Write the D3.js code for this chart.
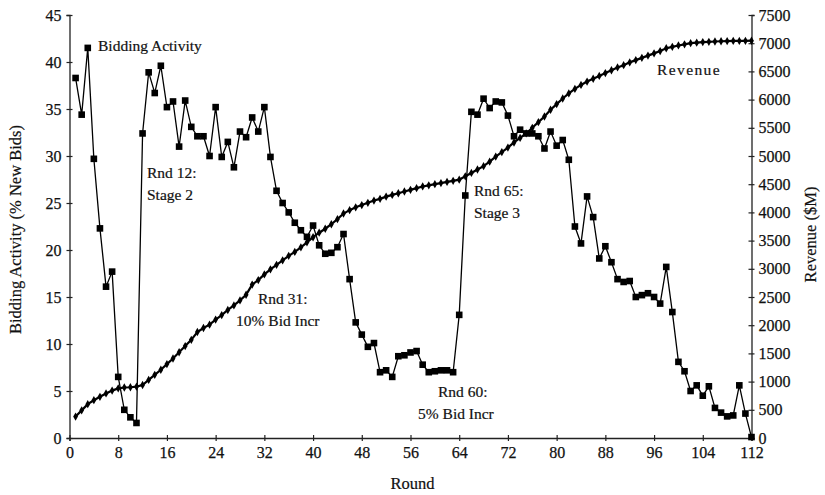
<!DOCTYPE html>
<html>
<head>
<meta charset="utf-8">
<script src="https://cdn.jsdelivr.net/npm/d3@7"></script>
<style>
  html, body { margin: 0; padding: 0; background: #fff; }
  svg text { font-family: "Liberation Serif", "DejaVu Serif", serif; fill: #111; }
</style>
</head>
<body>
<svg id="chart" width="825" height="495"></svg>
<script>
// Rounds 1..112
const rounds = d3.range(1, 113);

// Bidding Activity (% New Bids), one value per round
const bidding = [
  38.3, 34.4, 41.5, 29.7, 22.3, 16.1, 17.7, 6.5, 3.0, 2.2, 1.6,
  32.4, 38.9, 36.7, 39.6, 35.2, 35.8, 31.0, 35.9, 33.1, 32.1,
  32.1, 30.0, 35.2, 29.9, 31.5, 28.8, 32.6, 32.0, 34.1, 32.6,
  35.2, 29.9, 26.3, 25.0, 24.0, 22.9, 22.1, 21.4, 22.6, 20.5,
  19.6, 19.7, 20.3, 21.7, 16.9, 12.3, 11.0, 9.7, 10.1, 7.0,
  7.2, 6.5, 8.7, 8.8, 9.1, 9.25, 7.8, 7.0, 7.1, 7.2,
  7.2, 7.0, 13.1, 25.8, 34.7, 34.4, 36.1, 35.1, 35.8, 35.7,
  34.3, 32.1, 32.8, 32.4, 32.4, 32.1, 30.8, 32.6, 31.1, 31.7,
  29.6, 22.5, 20.7, 25.7, 23.5, 19.1, 20.4, 18.7, 16.9, 16.6,
  16.7, 15.0, 15.2, 15.4, 15.0, 14.3, 18.2, 13.4, 8.1, 7.1,
  5.0, 5.6, 4.5, 5.5, 3.2, 2.7, 2.3, 2.4, 5.6, 2.6,
  0.1
];

// Revenue ($M), one value per round
const revenue = [
  380, 490, 600, 670, 730, 790, 840, 880, 895, 900, 910,
  940, 1030, 1120, 1210, 1310, 1410, 1520, 1630, 1740, 1880,
  1950, 2010, 2100, 2180, 2270, 2350, 2440, 2540, 2720, 2800,
  2900, 2990, 3070, 3150, 3230, 3300, 3380, 3470, 3560, 3640,
  3710, 3790, 3880, 3980, 4040, 4090, 4130, 4170, 4210, 4240,
  4280, 4310, 4340, 4370, 4400, 4430, 4460, 4480, 4500, 4520,
  4540, 4560, 4580, 4640, 4700, 4760, 4820, 4900, 4990, 5070,
  5150, 5240, 5320, 5400, 5500, 5600, 5700, 5820, 5920, 6020,
  6110, 6190, 6260, 6320, 6370, 6420, 6470, 6520, 6570, 6610,
  6660, 6700, 6740, 6780, 6820, 6860, 6910, 6935, 6960, 6980,
  7000, 7010, 7020, 7025, 7030, 7035, 7038, 7040, 7040, 7042,
  7044
];

const xTicks = d3.range(0, 113, 8);
const leftTicks = d3.range(0, 46, 5);
const rightTicks = d3.range(0, 7501, 500);

const annotations = [
  { lines: ["Bidding Activity"], x: 98, y: 51, ls: 0 },
  { lines: ["Rnd 12:", "Stage 2"], x: 147, y: 178, ls: 0 },
  { lines: ["Rnd 31:", "10% Bid Incr"], x: 236, y: 304, anchors: [22, 0], ls: 0 },
  { lines: ["Rnd 60:", "5% Bid Incr"], x: 418, y: 397, anchors: [20, 0], ls: 0 },
  { lines: ["Rnd 65:", "Stage 3"], x: 474, y: 196, ls: 0 },
  { lines: ["Revenue"], x: 657, y: 75, ls: 1.4 }
];

const svg = d3.select("#chart");
const L = 69.5, R = 751.5, T = 15, B = 438;

const x = d3.scaleLinear().domain([0, 112]).range([L, R]);
const yL = d3.scaleLinear().domain([0, 45]).range([B, T]);
const yR = d3.scaleLinear().domain([0, 7500]).range([B, T]);

// Axes
const gx = svg.append("g").attr("transform", `translate(0,${B})`)
  .call(d3.axisBottom(x).tickValues(xTicks).tickSize(3).tickPadding(6).tickFormat(d3.format("d")));
const gl = svg.append("g").attr("transform", `translate(${L},0)`)
  .call(d3.axisLeft(yL).tickValues(leftTicks).tickSize(3).tickPadding(5).tickFormat(d3.format("d")));
const gr = svg.append("g").attr("transform", `translate(${R},0)`)
  .call(d3.axisRight(yR).tickValues(rightTicks).tickSize(3).tickPadding(4).tickFormat(d3.format("d")));

[gx, gl, gr].forEach(g => {
  g.select(".domain").attr("stroke", "#222").attr("stroke-width", 1.3);
  g.selectAll(".tick line").attr("stroke", "#222").attr("stroke-width", 1.2);
  g.selectAll(".tick text").attr("font-size", 16).attr("fill", "#111")
    .attr("stroke", "#111").attr("stroke-width", 0.25)
    .style("font-family", "'Liberation Serif', serif");
});
// ticks crossing axes
gx.selectAll(".tick line").attr("y1", -3).attr("y2", 3);
gl.selectAll(".tick line").attr("x1", 3).attr("x2", -3);
gr.selectAll(".tick line").attr("x1", -3).attr("x2", 3);

// Revenue series
const revData = rounds.map((r, i) => [r, revenue[i]]);
svg.append("path")
  .datum(revData)
  .attr("fill", "none").attr("stroke", "#000").attr("stroke-width", 2.2)
  .attr("d", d3.line().x(d => x(d[0])).y(d => yR(d[1])));
svg.append("g").selectAll("path")
  .data(revData).join("path")
  .attr("d", d3.symbol(d3.symbolDiamond, 20))
  .attr("transform", d => `translate(${x(d[0])},${yR(d[1])})`)
  .attr("fill", "#000");

// Bidding series
const bidData = rounds.map((r, i) => [r, bidding[i]]);
svg.append("path")
  .datum(bidData)
  .attr("fill", "none").attr("stroke", "#000").attr("stroke-width", 1.3)
  .attr("d", d3.line().x(d => x(d[0])).y(d => yL(d[1])));
svg.append("g").selectAll("rect")
  .data(bidData).join("rect")
  .attr("x", d => x(d[0]) - 3.3).attr("y", d => yL(d[1]) - 3.3)
  .attr("width", 6.6).attr("height", 6.6)
  .attr("fill", "#000");

// Annotations
annotations.forEach(a => {
  a.lines.forEach((t, i) => {
    svg.append("text")
      .attr("x", a.x + (a.anchors ? a.anchors[i] : 0))
      .attr("y", a.y + i * 22)
      .attr("font-size", 15.5)
      .attr("letter-spacing", a.ls)
      .attr("stroke", "#111").attr("stroke-width", 0.2)
      .text(t);
  });
});

// Axis titles
svg.append("text")
  .attr("transform", `translate(21,${(T + B) / 2 + 3}) rotate(-90)`)
  .attr("text-anchor", "middle").attr("font-size", 16.5)
  .attr("stroke", "#111").attr("stroke-width", 0.2)
  .text("Bidding Activity (% New Bids)");
svg.append("text")
  .attr("transform", `translate(816,${(T + B) / 2 + 8}) rotate(-90)`)
  .attr("text-anchor", "middle").attr("font-size", 16.5)
  .attr("stroke", "#111").attr("stroke-width", 0.2)
  .text("Revenue ($M)");
svg.append("text")
  .attr("x", (L + R) / 2 + 2).attr("y", 489)
  .attr("text-anchor", "middle").attr("font-size", 16.5)
  .attr("stroke", "#111").attr("stroke-width", 0.2)
  .text("Round");
</script>
</body>
</html>
